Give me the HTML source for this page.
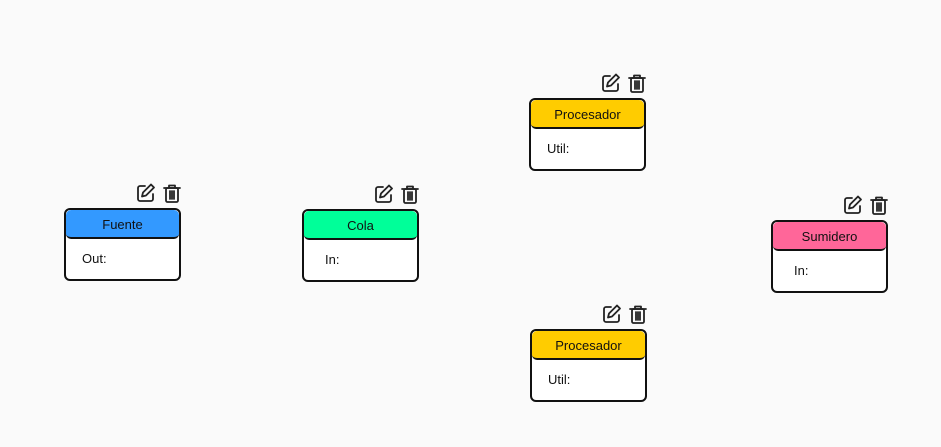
<!DOCTYPE html><html><head><style>
body{margin:0;width:941px;height:447px;background:#fafafa;position:relative;overflow:hidden;font-family:"Liberation Sans",sans-serif;}
.n{position:absolute;width:113px;height:69px;border:2px solid #111;border-radius:6px;background:#fff;}
.h{height:27px;border-bottom:2px solid #111;border-radius:5px 5px 5px 5px;text-align:center;line-height:29px;font-size:13px;color:#111;}
.b{position:absolute;left:16px;top:41px;font-size:13px;color:#111;}
.ic{position:absolute;top:-27px;left:70px;}
</style></head><body>
<svg width="0" height="0" style="position:absolute"><defs>
<g id="icons" fill="none" stroke="#222" stroke-width="1.8" stroke-linecap="round" stroke-linejoin="round">
<path d="M9 3H4a2 2 0 0 0-2 2v11a2 2 0 0 0 2 2h11a2 2 0 0 0 2-2v-5"/>
<path d="M15 1.5l3 3L10 12.5l-4 1 1-4z"/>
<rect x="30" y="5" width="12" height="14" rx="1.5"/><path d="M28 5h16M33 5V2.5h6V5M34 8v8M36 8v8M38 8v8"/>
</g></defs></svg>
<div class="n" style="left:64px;top:208px"><svg class="ic" width="46" height="22"><use href="#icons"/></svg><div class="h" style="background:#3399ff">Fuente</div><div class="b">Out:</div></div>
<div class="n" style="left:302px;top:209px"><svg class="ic" width="46" height="22"><use href="#icons"/></svg><div class="h" style="background:#00ff99">Cola</div><div class="b" style="left:21px">In:</div></div>
<div class="n" style="left:529px;top:98px"><svg class="ic" width="46" height="22"><use href="#icons"/></svg><div class="h" style="background:#ffcc00">Procesador</div><div class="b">Util:</div></div>
<div class="n" style="left:530px;top:329px"><svg class="ic" width="46" height="22"><use href="#icons"/></svg><div class="h" style="background:#ffcc00">Procesador</div><div class="b">Util:</div></div>
<div class="n" style="left:771px;top:220px"><svg class="ic" width="46" height="22"><use href="#icons"/></svg><div class="h" style="background:#ff6699">Sumidero</div><div class="b" style="left:21px">In:</div></div>
</body></html>
